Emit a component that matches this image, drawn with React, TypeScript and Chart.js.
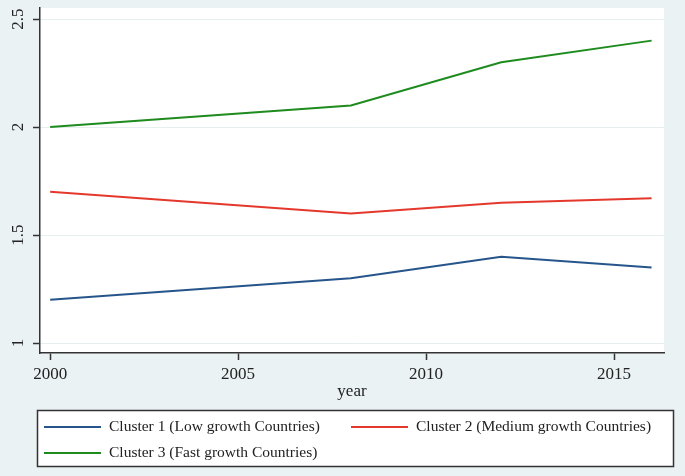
import React, { useEffect, useRef } from "react";
import { Chart, registerables } from "chart.js";

Chart.register(...registerables);

const years = [2000, 2008, 2012, 2016];
const cluster1 = [1.2, 1.3, 1.4, 1.35];
const cluster2 = [1.7, 1.6, 1.65, 1.67];
const cluster3 = [2.0, 2.1, 2.3, 2.4];
const seriesLabels = [
  "Cluster 1 (Low growth Countries)",
  "Cluster 2 (Medium growth Countries)",
  "Cluster 3 (Fast growth Countries)",
];
const xTicks = [2000, 2005, 2010, 2015];
const yTicks = [1, 1.5, 2, 2.5];
const xTitle = "year";

const COLORS = ["#25558a", "#e5382c", "#1e8b1e"];
const BG = "#eaf2f3";
const FONT = "'Liberation Serif', 'Times New Roman', serif";

export default function App() {
  const ref = useRef<HTMLCanvasElement | null>(null);

  useEffect(() => {
    document.body.style.margin = "0";
    const canvas = ref.current;
    if (!canvas) return;

    const bgPlugin = {
      id: "bgPlugin",
      beforeDraw(chart: any) {
        const { ctx, chartArea } = chart;
        ctx.save();
        ctx.fillStyle = BG;
        ctx.fillRect(0, 0, chart.width, chart.height);
        ctx.fillStyle = "#ffffff";
        ctx.fillRect(chartArea.left, chartArea.top, chartArea.right - chartArea.left, chartArea.bottom - chartArea.top);
        ctx.restore();
      },
    };

    const legendPlugin = {
      id: "legendPlugin",
      afterDraw(chart: any) {
        const { ctx } = chart;
        ctx.save();
        ctx.fillStyle = "#ffffff";
        ctx.fillRect(37.5, 410.5, 636, 56);
        ctx.strokeStyle = "#333333";
        ctx.lineWidth = 1.5;
        ctx.strokeRect(37.5, 410.5, 636, 56);
        const entries = [
          { col: 0, row: 0 },
          { col: 1, row: 0 },
          { col: 0, row: 1 },
        ];
        const colX = [44, 351];
        const rowY = [427, 453];
        ctx.font = `15.5px ${FONT}`;
        ctx.textBaseline = "middle";
        ctx.textAlign = "left";
        chart.data.datasets.forEach((ds: any, i: number) => {
          const e = entries[i];
          const x = colX[e.col];
          const y = rowY[e.row];
          ctx.strokeStyle = ds.borderColor;
          ctx.lineWidth = 2;
          ctx.beginPath();
          ctx.moveTo(x, y);
          ctx.lineTo(x + 57, y);
          ctx.stroke();
          ctx.fillStyle = "#222222";
          ctx.fillText(ds.label, x + 65, y);
        });
        ctx.restore();
      },
    };

    const mk = (vals: number[], i: number) => ({
      label: seriesLabels[i],
      data: years.map((yr, k) => ({ x: yr, y: vals[k] })),
      borderColor: COLORS[i],
      backgroundColor: COLORS[i],
      borderWidth: 2,
      pointRadius: 0,
      tension: 0,
      fill: false,
    });

    const chart = new Chart(canvas, {
      type: "line",
      data: {
        datasets: [mk(cluster1, 0), mk(cluster2, 1), mk(cluster3, 2)],
      },
      options: {
        animation: false,
        responsive: false,
        devicePixelRatio: 1,
        layout: { autoPadding: false, padding: { top: 8, right: 21, bottom: 74, left: 0 } },
        plugins: {
          legend: { display: false },
          tooltip: { enabled: false },
        },
        scales: {
          x: {
            type: "linear",
            min: 1999.73,
            max: 2016.33,
            afterBuildTicks: (scale: any) => {
              scale.ticks = xTicks.map((v) => ({ value: v }));
            },
            afterFit: (scale: any) => {
              scale.height = 49;
              scale.paddingLeft = 0;
              scale.paddingRight = 0;
            },
            grid: {
              drawOnChartArea: false,
              tickLength: 7,
              tickColor: "#333333",
              tickWidth: 1.5,
            },
            border: { color: "#333333", width: 1.5 },
            ticks: {
              autoSkip: false,
              maxRotation: 0,
              padding: 4,
              color: "#222222",
              font: { family: FONT, size: 17 },
              callback: (v: any) => String(v),
            },
            title: {
              display: true,
              text: xTitle,
              color: "#222222",
              font: { family: FONT, size: 17 },
              padding: 0,
            },
          },
          y: {
            type: "linear",
            min: 0.954,
            max: 2.551,
            afterBuildTicks: (scale: any) => {
              scale.ticks = yTicks.map((v) => ({ value: v }));
            },
            afterFit: (scale: any) => {
              scale.width = 40;
              scale.paddingTop = 0;
              scale.paddingBottom = 0;
            },
            grid: {
              color: "#e6eef0",
              lineWidth: 1,
              tickLength: 7,
              tickColor: "#333333",
              tickWidth: 1.5,
            },
            border: { color: "#333333", width: 1.5 },
            ticks: {
              autoSkip: false,
              minRotation: 90,
              maxRotation: 90,
              crossAlign: "center",
              padding: 4,
              color: "#222222",
              font: { family: FONT, size: 17 },
              callback: (v: any) => String(v),
            },
          },
        },
      },
      plugins: [bgPlugin, legendPlugin],
    } as any);

    return () => chart.destroy();
  }, []);

  return <canvas ref={ref} width={685} height={476} style={{ display: "block" }} />;
}
